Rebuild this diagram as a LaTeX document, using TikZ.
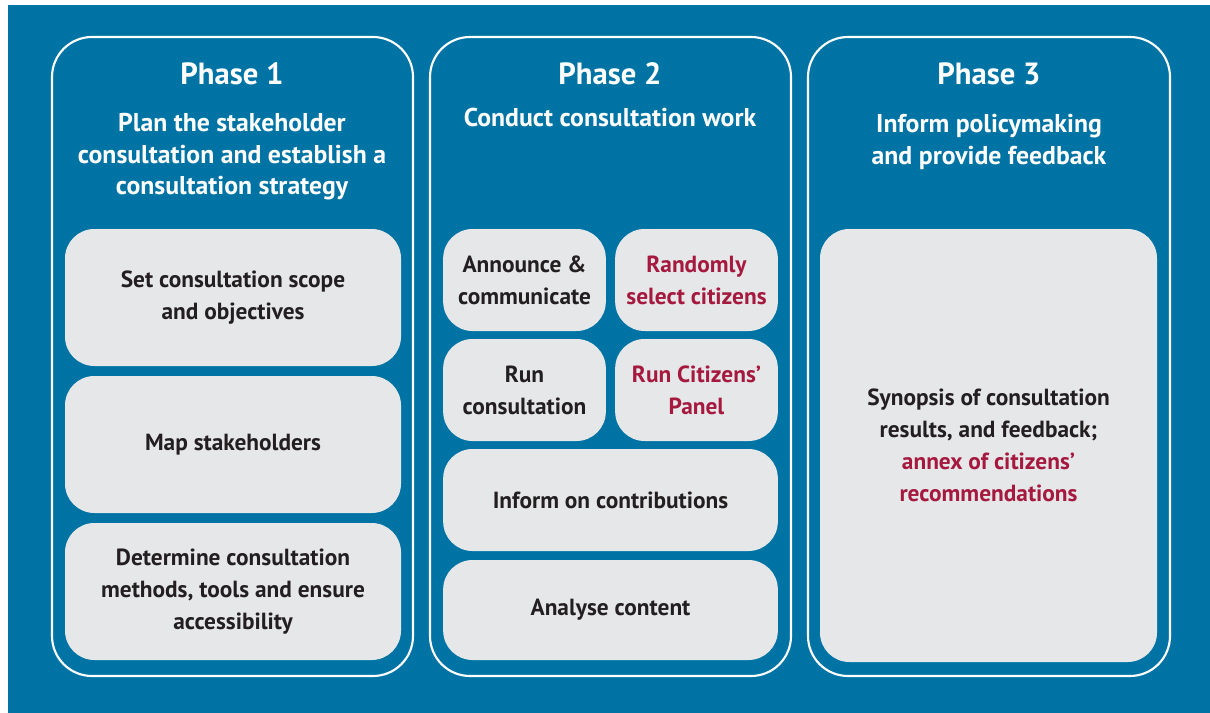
\documentclass[tikz,border=0pt]{standalone}
\usepackage{fontspec}
\setmainfont{PT Sans}
\definecolor{bgblue}{HTML}{0073A5}
\definecolor{boxgray}{HTML}{E6E7E9}
\definecolor{txtdark}{HTML}{231F20}
\definecolor{txtred}{HTML}{A6193F}
\tikzstyle{phase}=[draw=white,line width=1.6pt,rounded corners=30pt]
\tikzstyle{title}=[text=white,font=\bfseries\fontsize{23}{27}\selectfont]
\tikzstyle{goal}=[text=white,align=center,font=\bfseries\fontsize{19.3}{23.6}\selectfont]
\tikzstyle{task}=[fill=boxgray,rounded corners=22pt,inner sep=0pt,align=center,text=txtdark,font=\bfseries\fontsize{17.5}{24}\selectfont]

\begin{document}
\begin{tikzpicture}[x=0.75pt,y=-0.75pt]
\useasboundingbox (0,0) rectangle (1210,713);
\fill[bgblue] (8,5) rectangle (1210,713);
% phase frames
\draw[phase] (52,37) rectangle (413,676);
\draw[phase] (430,37) rectangle (791,676);
\draw[phase] (808,37) rectangle (1170,676);
% titles
\node[title] at (232,74) (t1) {Phase 1};
\node[title] at (610,74) (t2) {Phase 2};
\node[title] at (989,74) (t3) {Phase 3};
\node[goal] at (232,157) (g1) {Plan the stakeholder\\consultation and establish a\\consultation strategy};
\node[goal] at (610,117) (g2) {Conduct consultation work};
\node[goal] at (989,142) (g3) {Inform policymaking\\and provide feedback};
% phase 1
\node[task,minimum width=252pt,minimum height=102.75pt] at (233,297.5) (scope) {Set consultation scope\\and objectives};
\node[task,minimum width=252pt,minimum height=102.75pt] at (233,444.5) (map) {Map stakeholders};
\node[task,minimum width=252pt,minimum height=102.75pt] at (233,591.5) (methods) {Determine consultation\\methods, tools and ensure\\accessibility};
% phase 2
\node[task,minimum width=122pt,minimum height=76.5pt] at (524.5,280) (announce) {Announce \&\\communicate};
\node[task,minimum width=122pt,minimum height=76.5pt,text=txtred] at (696.5,280) (select) {Randomly\\select citizens};
\node[task,minimum width=122pt,minimum height=76.5pt] at (524.5,390) (run) {Run\\consultation};
\node[task,minimum width=122pt,minimum height=76.5pt,text=txtred] at (696.5,390) (panel) {Run Citizens'\\Panel};
\node[task,minimum width=251pt,minimum height=76.5pt] at (610.5,500) (inform) {Inform on contributions};
\node[task,minimum width=251pt,minimum height=75pt] at (610.5,610) (analyse) {Analyse content};
% phase 3
\node[task,minimum width=252.75pt,minimum height=324.75pt] at (988.5,445.5) (synopsis) {Synopsis of consultation\\results, and feedback;\\\textcolor{txtred}{annex of citizens'}\\\textcolor{txtred}{recommendations}};
\end{tikzpicture}
\end{document}
